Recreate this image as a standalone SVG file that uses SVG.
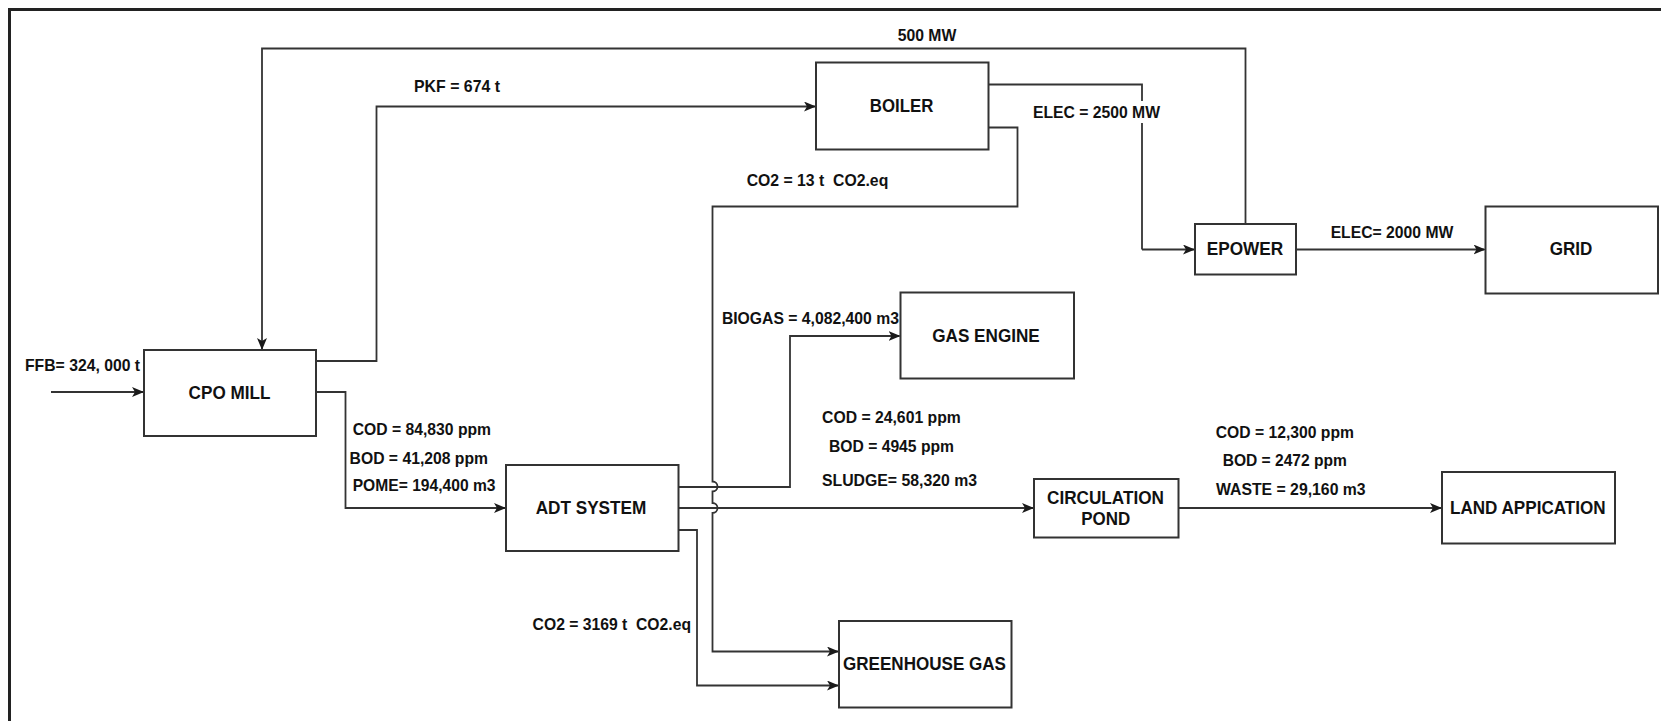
<svg xmlns="http://www.w3.org/2000/svg" width="1661" height="721" viewBox="0 0 1661 721">
<defs>
<marker id="arr" markerWidth="12" markerHeight="10" refX="11" refY="5" orient="auto" markerUnits="userSpaceOnUse">
<path d="M0,0 L12,5 L0,10 L3,5 z" fill="#1a1a1a"/>
</marker>
<style>
.node rect{fill:#fff;stroke:#333;stroke-width:2}
.node text{font-family:"Liberation Sans",Arial,sans-serif;font-weight:bold;font-size:18.5px;fill:#111;text-anchor:middle}
.lbl{font-family:"Liberation Sans",Arial,sans-serif;font-weight:bold;font-size:16.5px;fill:#111;text-anchor:middle;white-space:pre}
.c path{fill:none;stroke:#333;stroke-width:1.8}
.a{marker-end:url(#arr)}
</style>
</defs>
<rect x="0" y="0" width="1661" height="721" fill="#fff"/>
<rect x="9.5" y="9.5" width="1665" height="725" fill="none" stroke="#222" stroke-width="3"/>

<g id="connectors" class="c">
<path class="a" d="M51,392 H143"/>
<path class="a" d="M1245.5,224 V48.5 H262 V349"/>
<path class="a" d="M316,361 H376.5 V106.5 H815"/>
<path d="M988.5,84.5 H1142 V249.5"/>
<path class="a" d="M1142,249.5 H1194"/>
<path class="a" d="M1296,249.5 H1484.5"/>
<path class="a" d="M316,392 H345.5 V508 H505"/>
<path class="a" d="M678.5,487 H790 V336 H899.5"/>
<path class="a" d="M678.5,508 H1033"/>
<path class="a" d="M678.5,530 H697 V685.5 H838"/>
<path class="a" d="M988.5,127.5 H1017.5 V206.5 H712.5 V481.5 A5,5 0 0 1 712.5,491.5 V503 A5,5 0 0 1 712.5,513 V651.5 H838"/>
<path class="a" d="M1178.5,508 H1441"/>
</g>

<g id="labels">
<text class="lbl" x="82.5" y="371" textLength="115" lengthAdjust="spacingAndGlyphs">FFB= 324, 000 t</text>
<text class="lbl" x="457" y="92" textLength="86" lengthAdjust="spacingAndGlyphs">PKF = 674 t</text>
<text class="lbl" x="927" y="41" textLength="58.6" lengthAdjust="spacingAndGlyphs">500 MW</text>
<rect x="1031" y="101" width="131" height="22" fill="#fff"/>
<text class="lbl" x="1096.5" y="118" textLength="127" lengthAdjust="spacingAndGlyphs">ELEC = 2500 MW</text>
<text class="lbl" x="817.5" y="186.3" textLength="141.6" lengthAdjust="spacingAndGlyphs">CO2 = 13 t  CO2.eq</text>
<text class="lbl" x="1392" y="237.7" textLength="122.7" lengthAdjust="spacingAndGlyphs">ELEC= 2000 MW</text>
<text class="lbl" x="810.4" y="324.3" textLength="177" lengthAdjust="spacingAndGlyphs">BIOGAS = 4,082,400 m3</text>
<text class="lbl" x="421.9" y="435" textLength="138.3" lengthAdjust="spacingAndGlyphs">COD = 84,830 ppm</text>
<text class="lbl" x="418.8" y="463.7" textLength="138.4" lengthAdjust="spacingAndGlyphs">BOD = 41,208 ppm</text>
<text class="lbl" x="424.1" y="491" textLength="142.8" lengthAdjust="spacingAndGlyphs">POME= 194,400 m3</text>
<text class="lbl" x="891.4" y="422.7" textLength="138.8" lengthAdjust="spacingAndGlyphs">COD = 24,601 ppm</text>
<text class="lbl" x="891.5" y="451.7" textLength="125" lengthAdjust="spacingAndGlyphs">BOD = 4945 ppm</text>
<text class="lbl" x="899.5" y="486" textLength="155" lengthAdjust="spacingAndGlyphs">SLUDGE= 58,320 m3</text>
<text class="lbl" x="1284.8" y="437.7" textLength="138.3" lengthAdjust="spacingAndGlyphs">COD = 12,300 ppm</text>
<text class="lbl" x="1284.8" y="466.3" textLength="124.3" lengthAdjust="spacingAndGlyphs">BOD = 2472 ppm</text>
<text class="lbl" x="1290.8" y="495" textLength="149.7" lengthAdjust="spacingAndGlyphs">WASTE = 29,160 m3</text>
<text class="lbl" x="611.8" y="630.3" textLength="158.4" lengthAdjust="spacingAndGlyphs">CO2 = 3169 t  CO2.eq</text>
</g>

<g id="cpo-mill" class="node"><rect x="144" y="350" width="172" height="86"/><text x="229.5" y="398.7" textLength="81.8" lengthAdjust="spacingAndGlyphs">CPO MILL</text></g>
<g id="boiler" class="node"><rect x="816" y="62.5" width="172.5" height="87"/><text x="901.6" y="112" textLength="63.5" lengthAdjust="spacingAndGlyphs">BOILER</text></g>
<g id="epower" class="node"><rect x="1195" y="224" width="101" height="50.5"/><text x="1245" y="255" textLength="76.6" lengthAdjust="spacingAndGlyphs">EPOWER</text></g>
<g id="grid" class="node"><rect x="1485.5" y="206.5" width="172.5" height="87"/><text x="1571" y="255" textLength="42.6" lengthAdjust="spacingAndGlyphs">GRID</text></g>
<g id="gas-engine" class="node"><rect x="900.5" y="292.5" width="173.5" height="86"/><text x="986" y="341.7" textLength="107.5" lengthAdjust="spacingAndGlyphs">GAS ENGINE</text></g>
<g id="adt-system" class="node"><rect x="506" y="465" width="172.5" height="86"/><text x="591" y="514.4" textLength="110.7" lengthAdjust="spacingAndGlyphs">ADT SYSTEM</text></g>
<g id="circulation-pond" class="node"><rect x="1034" y="479" width="144.5" height="58.5"/><text x="1105.5" y="504" textLength="117" lengthAdjust="spacingAndGlyphs">CIRCULATION</text><text x="1105.8" y="525" textLength="49" lengthAdjust="spacingAndGlyphs">POND</text></g>
<g id="land-application" class="node"><rect x="1442" y="472" width="173" height="71.5"/><text x="1527.8" y="514.4" textLength="155.7" lengthAdjust="spacingAndGlyphs">LAND APPICATION</text></g>
<g id="greenhouse-gas" class="node"><rect x="839" y="621" width="172.5" height="86.5"/><text x="924.5" y="669.7" textLength="163" lengthAdjust="spacingAndGlyphs">GREENHOUSE GAS</text></g>
</svg>
